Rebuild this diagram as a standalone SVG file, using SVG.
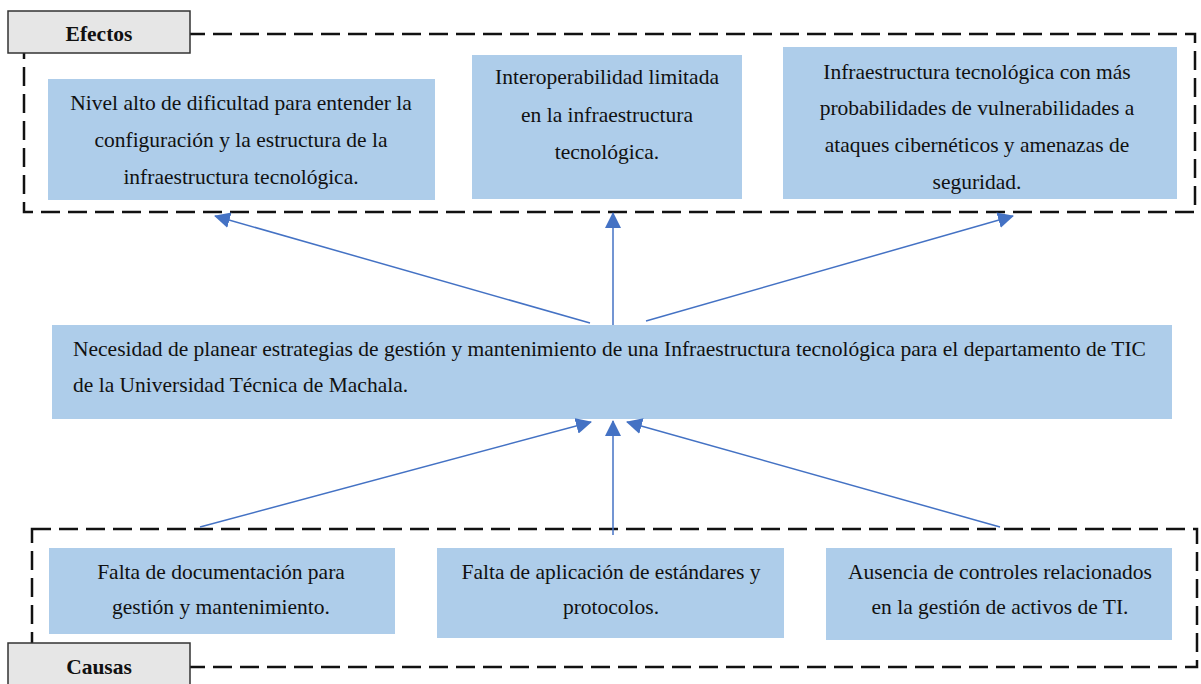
<svg xmlns="http://www.w3.org/2000/svg" width="1201" height="684" viewBox="0 0 1201 684">
<style>
.box{fill:#AECDEA;}
.t{font-family:"Liberation Serif","Times New Roman",serif;font-size:21.5px;fill:#111;text-anchor:middle;}
.tl{font-family:"Liberation Serif","Times New Roman",serif;font-size:21.5px;fill:#111;}
.tab{fill:#E6E6E6;stroke:#333;stroke-width:1.5;}
.tabt{font-family:"Liberation Serif","Times New Roman",serif;font-size:21.5px;font-weight:bold;fill:#111;text-anchor:middle;}
.dash{fill:none;stroke:#111;stroke-width:2.5;stroke-dasharray:19 8;}
.conn{stroke:#4472C4;stroke-width:1.5;fill:none;}
</style>
<defs>
<marker id="ah" markerUnits="userSpaceOnUse" markerWidth="16" markerHeight="16" viewBox="0 0 16 16" refX="15" refY="8" orient="auto">
<path d="M0,0 L16,8 L0,16 Z" fill="#4472C4"/>
</marker>
</defs>

<g id="efectos-frame">
<rect class="dash" x="24" y="34" width="1171" height="178"/>
<rect class="tab" x="8" y="11" width="182" height="42"/>
<text class="tabt" x="99" y="41">Efectos</text>
</g>

<g id="causas-frame">
<rect class="dash" x="32" y="529" width="1165" height="138"/>
<rect class="tab" x="8" y="643" width="182" height="50"/>
<text class="tabt" x="99" y="674">Causas</text>
</g>

<g id="efecto1">
<rect class="box" x="48" y="79" width="387" height="121"/>
<text class="t" x="241" y="110">Nivel alto de dificultad para entender la</text>
<text class="t" x="241" y="147">configuración y la estructura de la</text>
<text class="t" x="241" y="184">infraestructura tecnológica.</text>
</g>

<g id="efecto2">
<rect class="box" x="472" y="55" width="270" height="144"/>
<text class="t" x="607" y="84">Interoperabilidad limitada</text>
<text class="t" x="607" y="122">en la infraestructura</text>
<text class="t" x="607" y="159">tecnológica.</text>
</g>

<g id="efecto3">
<rect class="box" x="783" y="47" width="394" height="152"/>
<text class="t" x="977" y="79">Infraestructura tecnológica con más</text>
<text class="t" x="977" y="115">probabilidades de vulnerabilidades a</text>
<text class="t" x="977" y="152">ataques cibernéticos y amenazas de</text>
<text class="t" x="977" y="189">seguridad.</text>
</g>

<g id="problema">
<rect class="box" x="52" y="325" width="1120" height="94"/>
<text class="tl" x="73" y="356">Necesidad de planear estrategias de gestión y mantenimiento de una Infraestructura tecnológica para el departamento de TIC</text>
<text class="tl" x="73" y="392">de la Universidad Técnica de Machala.</text>
</g>

<g id="causa1">
<rect class="box" x="49" y="548" width="346" height="86"/>
<text class="t" x="221" y="579">Falta de documentación para</text>
<text class="t" x="221" y="614">gestión y mantenimiento.</text>
</g>

<g id="causa2">
<rect class="box" x="437" y="548" width="347" height="90"/>
<text class="t" x="611" y="579">Falta de aplicación de estándares y</text>
<text class="t" x="611" y="614">protocolos.</text>
</g>

<g id="causa3">
<rect class="box" x="826" y="548" width="346" height="92"/>
<text class="t" x="1000" y="579">Ausencia de controles relacionados</text>
<text class="t" x="1000" y="614">en la gestión de activos de TI.</text>
</g>

<g id="connectors">
<line class="conn" x1="590" y1="323" x2="215" y2="216" marker-end="url(#ah)"/>
<line class="conn" x1="613" y1="325" x2="613" y2="213" marker-end="url(#ah)"/>
<line class="conn" x1="646" y1="321" x2="1013" y2="216" marker-end="url(#ah)"/>
<line class="conn" x1="200" y1="527" x2="591" y2="422" marker-end="url(#ah)"/>
<line class="conn" x1="613" y1="535" x2="613" y2="421" marker-end="url(#ah)"/>
<line class="conn" x1="1000" y1="527" x2="627" y2="422" marker-end="url(#ah)"/>
</g>
</svg>
